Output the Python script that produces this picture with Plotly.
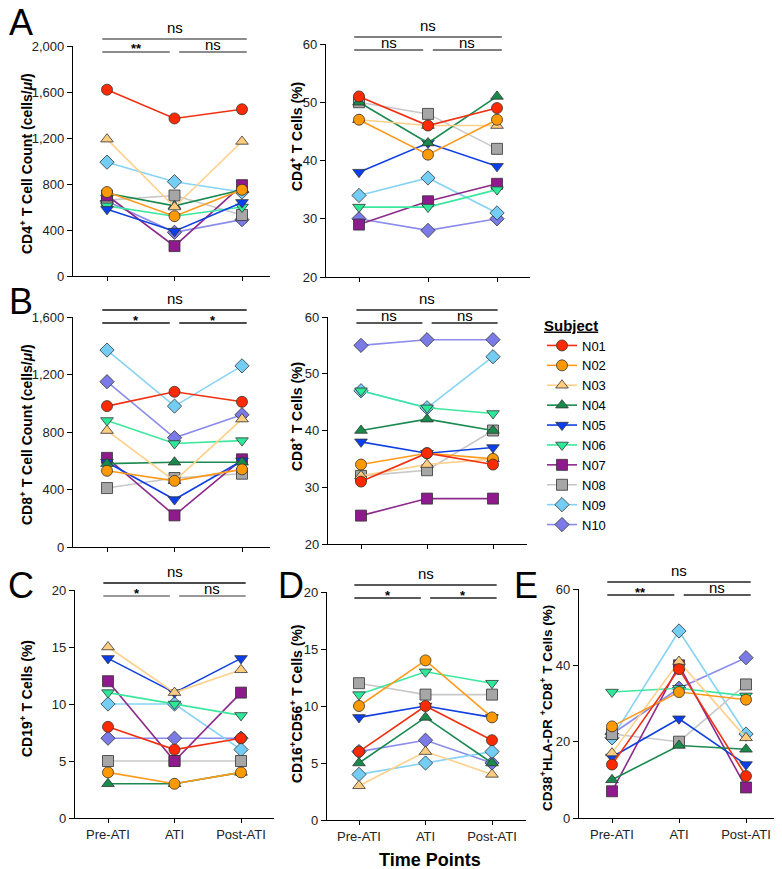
"""
ATI前後のリンパ球サブセット推移（被験者別）
"""
import plotly.graph_objects as go

W, H = 782, 869
FONT = "Liberation Sans, Arial, Helvetica, sans-serif"
BODY_MARGIN = 8  # ブラウザ既定のbodyマージン分を補正

# --- データ ---
TIME_POINTS = ["Pre-ATI", "ATI", "Post-ATI"]
SUBJECTS = ["N01", "N02", "N03", "N04", "N05", "N06", "N07", "N08", "N09", "N10"]
SYMBOLS = ["circle", "circle", "triangle-up", "triangle-up", "triangle-down",
           "triangle-down", "square", "square", "diamond", "diamond"]
MARKER_COLORS = ["#ff2a00", "#ff9900", "#ffcc80", "#198a4b", "#0a3ff0",
                 "#2ee89a", "#8e1a8e", "#a6a6a6", "#74cdf5", "#7b7be8"]
LINE_COLORS = ["#f03010", "#ff9a1a", "#ffd08a", "#1a8a50", "#1040e0",
               "#3be89e", "#8b2a8b", "#c8c8c8", "#86d3f5", "#8c8cec"]

CD4_COUNT = {
    "N01": [1620, 1370, 1450], "N02": [730, 520, 750], "N03": [1190, 600, 1170],
    "N04": [720, 610, 750], "N05": [580, 390, 640], "N06": [610, 520, 600],
    "N07": [700, 260, 790], "N08": [660, 700, 530], "N09": [990, 820, 730],
    "N10": [650, 380, 490],
}
CD4_PCT = {
    "N01": [51, 46, 49], "N02": [47, 41, 47], "N03": [47, 46, 46],
    "N04": [50, 43, 51], "N05": [38, 43, 39], "N06": [32, 32, 35],
    "N07": [29, 33, 36], "N08": [50, 48, 42], "N09": [34, 37, 31],
    "N10": [30, 28, 30],
}
CD8_COUNT = {
    "N01": [980, 1080, 1010], "N02": [530, 460, 540], "N03": [810, 460, 890],
    "N04": [580, 590, 590], "N05": [590, 330, 600], "N06": [880, 720, 740],
    "N07": [620, 220, 610], "N08": [410, 480, 510], "N09": [1370, 980, 1260],
    "N10": [1150, 760, 920],
}
CD8_PCT = {
    "N01": [31, 36, 34], "N02": [34, 36, 35], "N03": [32, 34, 35],
    "N04": [40, 42, 40], "N05": [38, 36, 37], "N06": [47, 44, 43],
    "N07": [25, 28, 28], "N08": [32, 33, 40], "N09": [47, 44, 53],
    "N10": [55, 56, 56],
}
CD19_PCT = {
    "N01": [8, 6, 7], "N02": [4, 3, 4], "N03": [15, 11, 13],
    "N04": [3, 3, 4], "N05": [14, 11, 14], "N06": [11, 10, 9],
    "N07": [12, 5, 11], "N08": [5, 5, 5], "N09": [10, 10, 6],
    "N10": [7, 7, 7],
}
CD16_CD56_PCT = {
    "N01": [6, 10, 7], "N02": [10, 14, 9], "N03": [3, 6, 4],
    "N04": [5, 9, 5], "N05": [9, 10, 9], "N06": [11, 13, 12],
    "N07": [None, None, None], "N08": [12, 11, 11], "N09": [4, 5, 6],
    "N10": [6, 7, 5],
}
CD38_HLADR_PCT = {
    "N01": [14, 39, 11], "N02": [24, 33, 31], "N03": [17, 41, 21],
    "N04": [10, 19, 18], "N05": [16, 26, 14], "N06": [33, 34, 32],
    "N07": [7, 40, 8], "N08": [22, 20, 35], "N09": [21, 49, 22],
    "N10": [22, 34, 42],
}

# 有意差表示（全体, Pre-ATI vs ATI, ATI vs Post-ATI）
SIG_CD4_COUNT = ["ns", "**", "ns"]
SIG_CD4_PCT = ["ns", "ns", "ns"]
SIG_CD8_COUNT = ["ns", "*", "*"]
SIG_CD8_PCT = ["ns", "ns", "ns"]
SIG_CD19 = ["ns", "*", "ns"]
SIG_CD16_CD56 = ["ns", "*", "*"]
SIG_CD38 = ["ns", "**", "ns"]


def px(x):
    return (x - BODY_MARGIN) / W


def py(y):
    return 1 - (y - BODY_MARGIN) / H


# パネル設定（ピクセル位置: 左, 右, 上, 下）
PANELS = [
    dict(data=CD4_COUNT, sig=SIG_CD4_COUNT, yr=[0, 2000], dtick=400, box=(73, 270, 46, 276),
         t0=107, step=67.5, letter="A", letter_xy=(21, 23),
         title="CD4<sup>+</sup> T Cell Count (cells/<i>μl</i>)", title_xy=(26, 164), tsize=14,
         bar_colors=("#666666", "#666666"), labels=False),
    dict(data=CD4_PCT, sig=SIG_CD4_PCT, yr=[20, 60], dtick=10, box=(326, 530, 44, 277),
         t0=359, step=69, letter=None, letter_xy=None,
         title="CD4<sup>+</sup> T Cells (%)", title_xy=(296, 137), tsize=14,
         bar_colors=("#555555", "#555555"), labels=False),
    dict(data=CD8_COUNT, sig=SIG_CD8_COUNT, yr=[0, 1600], dtick=400, box=(73, 270, 317, 547),
         t0=107, step=67.5, letter="B", letter_xy=(21, 301),
         title="CD8<sup>+</sup> T Cell Count (cells/<i>μl</i>)", title_xy=(26, 435), tsize=14,
         bar_colors=("#111111", "#111111"), labels=False),
    dict(data=CD8_PCT, sig=SIG_CD8_PCT, yr=[20, 60], dtick=10, box=(328, 527, 317, 544),
         t0=361, step=66, letter=None, letter_xy=None,
         title="CD8<sup>+</sup> T Cells (%)", title_xy=(296, 417), tsize=14,
         bar_colors=("#222222", "#222222"), labels=False),
    dict(data=CD19_PCT, sig=SIG_CD19, yr=[0, 20], dtick=5, box=(75, 274, 590, 818),
         t0=108, step=66.5, letter="C", letter_xy=(21, 585),
         title="CD19<sup>+</sup> T Cells (%)", title_xy=(26, 699), tsize=14,
         bar_colors=("#111111", "#777777"), labels=True),
    dict(data=CD16_CD56_PCT, sig=SIG_CD16_CD56, yr=[0, 20], dtick=5, box=(327, 526, 592, 820),
         t0=359, step=66.5, letter="D", letter_xy=(291, 585),
         title="CD16<sup>+</sup>CD56<sup>+</sup> T Cells (%)", title_xy=(296, 704), tsize=14,
         bar_colors=("#222222", "#222222"), labels=True),
    dict(data=CD38_HLADR_PCT, sig=SIG_CD38, yr=[0, 60], dtick=20, box=(579, 778, 589, 818),
         t0=612, step=67, letter="E", letter_xy=(526, 585),
         title="CD38<sup>+</sup>HLA-DR <sup>+</sup>CD8<sup>+</sup> T Cells (%)", title_xy=(546, 708),
         tsize=13.5, bar_colors=("#222222", "#222222"), labels=True),
]

fig = go.Figure()
xs = list(range(len(TIME_POINTS)))
shapes = []
annotations = []
layout = {}

for i, p in enumerate(PANELS):
    n = "" if i == 0 else str(i + 1)
    left, right, top, bottom = p["box"]

    # 被験者ごとの折れ線（N01が最前面になるよう逆順に描画）
    for k in reversed(range(len(SUBJECTS))):
        s = SUBJECTS[k]
        fig.add_trace(go.Scatter(
            x=xs, y=p["data"][s],
            mode="lines+markers",
            name=s, legendgroup=s, showlegend=(i == 0),
            line=dict(color=LINE_COLORS[k], width=1.6),
            marker=dict(symbol=SYMBOLS[k], size=11, color=MARKER_COLORS[k],
                        line=dict(color="#333333", width=0.8)),
            cliponaxis=False,
            xaxis="x" + n, yaxis="y" + n,
        ))

    xr = [(left - p["t0"]) / p["step"], (right - p["t0"]) / p["step"]]
    layout["xaxis" + n] = dict(
        domain=[px(left), px(right)], anchor="y" + n, range=xr,
        tickvals=xs, ticktext=TIME_POINTS, showticklabels=p["labels"],
        showline=True, linecolor="black", linewidth=1.2,
        ticks="outside", ticklen=4, tickcolor="black", tickwidth=1,
        showgrid=False, zeroline=False, automargin=False,
        tickfont=dict(size=13, color="#222222", family=FONT),
    )
    layout["yaxis" + n] = dict(
        domain=[py(bottom), py(top)], anchor="x" + n, range=p["yr"],
        dtick=p["dtick"], tick0=0, tickformat=",",
        showline=True, linecolor="black", linewidth=1.2,
        ticks="outside", ticklen=5, tickcolor="black", tickwidth=1,
        showgrid=False, zeroline=False, automargin=False,
        tickfont=dict(size=13, color="#222222", family=FONT),
    )

    # 有意差バー
    top_bar = top - 7
    low_bar = top + 6
    bars = [(-0.07, 2.07, top_bar, p["bar_colors"][0]),
            (-0.07, 0.93, low_bar, p["bar_colors"][1]),
            (1.07, 2.07, low_bar, p["bar_colors"][1])]
    for j, ((x0, x1, yb, c), lab) in enumerate(zip(bars, p["sig"])):
        shapes.append(dict(type="line", xref="x" + n, yref="paper",
                           x0=x0, x1=x1, y0=py(yb), y1=py(yb),
                           line=dict(color=c, width=1.6)))
        if "*" in lab:
            annotations.append(dict(text="<b>" + lab + "</b>", xref="x" + n, yref="paper",
                                    x=(x0 + x1) / 2, y=py(yb - 3), yanchor="middle",
                                    showarrow=False, font=dict(size=13, color="black", family=FONT)))
        else:
            offset = -1 if j == 0 else 3
            annotations.append(dict(text=lab, xref="x" + n, yref="paper",
                                    x=(x0 + x1) / 2, y=py(yb + offset), yanchor="bottom",
                                    showarrow=False, font=dict(size=15, color="black", family=FONT)))

    # 縦軸タイトル
    tx, ty = p["title_xy"]
    annotations.append(dict(text="<b>" + p["title"] + "</b>", xref="paper", yref="paper",
                            x=px(tx), y=py(ty), xanchor="center", yanchor="middle",
                            textangle=-90, showarrow=False,
                            font=dict(size=p["tsize"], color="black", family=FONT)))
    # パネル記号
    if p["letter"]:
        lx, ly = p["letter_xy"]
        annotations.append(dict(text=p["letter"], xref="paper", yref="paper",
                                x=px(lx), y=py(ly), xanchor="center", yanchor="middle",
                                showarrow=False, font=dict(size=36, color="black", family=FONT)))

annotations.append(dict(text="<b>Time Points</b>", xref="paper", yref="paper",
                        x=px(430), y=py(860), xanchor="center", yanchor="middle",
                        showarrow=False, font=dict(size=18, color="black", family=FONT)))

fig.update_layout(
    width=W, height=H,
    margin=dict(l=0, r=0, t=0, b=0, autoexpand=False),
    paper_bgcolor="white", plot_bgcolor="white",
    font=dict(family=FONT, color="black"),
    shapes=shapes, annotations=annotations,
    legend=dict(
        title=dict(text="<b><u>Subject</u></b>", font=dict(size=15, family=FONT)),
        x=px(542), y=py(311), xanchor="left", yanchor="top",
        traceorder="reversed", font=dict(size=13, family=FONT),
        bgcolor="rgba(0,0,0,0)", itemwidth=30,
    ),
    **layout,
)

fig.write_html("out.html")
